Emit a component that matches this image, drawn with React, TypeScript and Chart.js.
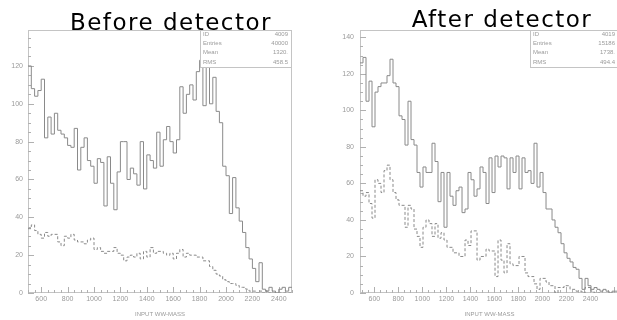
import { useEffect, useRef } from "react";
import { Chart, registerables } from "chart.js";

Chart.register(...registerables);

// Histogram binning (GeV), shared by both panels
const BIN_WIDTH = 25;

// "Before detector": generated WW mass, all events (solid) and selected (dashed)
const beforeFirstEdge = 500;
const beforeSolid = [
  120, 108, 104, 107, 113, 82, 93, 84, 95, 86, 84, 82, 78, 77, 87, 65, 77, 82, 70, 67,
  58, 71, 69, 46, 72, 58, 44, 64, 80, 80, 60, 66, 63, 57, 80, 55, 73, 70, 66, 85,
  67, 81, 88, 80, 74, 81, 109, 95, 105, 110, 102, 117, 123, 99, 126, 100, 114, 96, 90, 67,
  62, 42, 61, 45, 38, 32, 24, 18, 13, 6, 16, 2, 1, 3, 1, 0, 2, 3, 1, 3,
];
const beforeDashed = [
  34, 36, 33, 31, 29, 32, 30, 31, 31, 27, 25, 30, 29, 31, 28, 27, 27, 26, 28, 29,
  23, 24, 22, 21, 22, 22, 24, 21, 20, 17, 19, 20, 19, 21, 18, 22, 19, 24, 21, 22,
  22, 21, 20, 21, 18, 21, 23, 19, 21, 20, 20, 19, 19, 17, 17, 14, 12, 10, 9, 7,
  6, 5, 5, 4, 3, 3, 2, 1, 1, 0, 1, 0, 1, 0, 0, 0, 0, 0, 0, 0,
];

// "After detector": reconstructed WW mass
const afterFirstEdge = 480;
const afterSolid = [
  126, 129, 105, 116, 91, 110, 113, 115, 115, 119, 128, 115, 113, 97, 95, 81, 105, 84, 81, 66,
  58, 69, 66, 66, 82, 72, 50, 66, 36, 66, 53, 48, 56, 58, 44, 46, 66, 62, 53, 57,
  69, 66, 49, 74, 55, 75, 69, 75, 74, 57, 74, 66, 75, 57, 74, 66, 67, 60, 82, 58,
  66, 55, 46, 46, 40, 36, 33, 27, 22, 19, 17, 14, 13, 8, 2, 8, 4, 2, 3, 2,
  1, 2, 1, 0, 1, 1, 0, 0,
];
const afterDashed = [
  56, 53, 55, 49, 41, 62, 60, 55, 67, 70, 62, 55, 51, 48, 48, 36, 48, 46, 35, 31,
  25, 36, 40, 38, 31, 38, 30, 33, 29, 25, 25, 22, 22, 20, 20, 29, 26, 34, 34, 18,
  20, 20, 24, 23, 23, 9, 29, 18, 11, 27, 16, 15, 15, 20, 20, 11, 9, 9, 5, 2,
  8, 8, 6, 4, 4, 0, 3, 3, 4, 4, 2, 2, 1, 1, 0, 3, 3, 1, 0, 0,
];

// Axis ranges and tick labels
const beforeMassRange = [500, 2500];
const afterMassRange = [480, 2638];
const beforeCountMax = 139;
const afterCountMax = 144;
const massTicks = [600, 800, 1000, 1200, 1400, 1600, 1800, 2000, 2200, 2400];
const beforeCountTicks = [0, 20, 40, 60, 80, 100, 120];
const afterCountTicks = [0, 20, 40, 60, 80, 100, 120, 140];

// Statistics boxes
const beforeStats = [
  ["ID", "4009"],
  ["Entries", "40000"],
  ["Mean", "1320."],
  ["RMS", "458.5"],
];
const afterStats = [
  ["ID", "4019"],
  ["Entries", "15186"],
  ["Mean", "1738."],
  ["RMS", "494.4"],
];

const axisTitle = "INPUT WW-MASS";
const beforeTitle = "Before detector";
const afterTitle = "After detector";

const FRAME = "#c4c4c4";
const INK = "#8a8a8a";
const LABEL = "#9a9a9a";
const SMALL_FONT = "'Liberation Sans', Arial, sans-serif";

// Bin contents -> step outline points at bin edges
function toSteps(firstEdge: number, values: number[]) {
  const pts = values.map((v, i) => ({ x: firstEdge + i * BIN_WIDTH, y: v }));
  pts.push({ x: firstEdge + values.length * BIN_WIDTH, y: values[values.length - 1] });
  return pts;
}

// Draws a PAW-style frame with inward ticks, and the statistics box on top of the data
const pawFrame = {
  id: "pawFrame",
  beforeDatasetsDraw(chart: any) {
    const { ctx, chartArea: a, scales } = chart;
    const xs = scales.x;
    const ys = scales.y;
    ctx.save();
    ctx.strokeStyle = FRAME;
    ctx.lineWidth = 1;
    ctx.strokeRect(a.left + 0.5, a.top + 0.5, a.right - a.left - 1, a.bottom - a.top - 1);
    ctx.strokeStyle = "#b0b0b0";
    ctx.beginPath();
    for (let v = Math.ceil(xs.min / 50) * 50; v <= xs.max; v += 50) {
      const px = Math.round(xs.getPixelForValue(v)) + 0.5;
      const len = v % 200 === 0 ? 6 : 3;
      ctx.moveTo(px, a.bottom);
      ctx.lineTo(px, a.bottom - len);
    }
    for (let v = 0; v <= ys.max; v += 5) {
      const py = Math.round(ys.getPixelForValue(v)) + 0.5;
      const len = v % 20 === 0 ? 6 : 3;
      ctx.moveTo(a.left, py);
      ctx.lineTo(a.left + len, py);
    }
    ctx.stroke();
    ctx.restore();
  },
  afterDatasetsDraw(chart: any, _args: any, opts: any) {
    const { ctx, chartArea: a } = chart;
    const w = opts.width;
    const h = 38;
    const left = a.right - w;
    ctx.save();
    ctx.fillStyle = "#ffffff";
    ctx.fillRect(left, a.top, w, h);
    ctx.strokeStyle = FRAME;
    ctx.lineWidth = 1;
    ctx.strokeRect(left + 0.5, a.top + 0.5, w - 1, h - 1);
    ctx.fillStyle = LABEL;
    ctx.font = `6px ${SMALL_FONT}`;
    ctx.textBaseline = "middle";
    (opts.rows as string[][]).forEach(([k, v], i) => {
      const y = a.top + 4 + i * 9.3;
      ctx.textAlign = "left";
      ctx.fillText(k, left + 3, y);
      ctx.textAlign = "right";
      ctx.fillText(v, a.right - 4, y);
    });
    ctx.restore();
  },
};

type PanelProps = {
  solid: number[];
  dashed: number[];
  firstEdge: number;
  massRange: number[];
  countMax: number;
  countTicks: number[];
  stats: string[][];
  width: number;
  axisWidth: number;
  rightPad: number;
  labelPad: number;
  statsWidth: number;
  left: number;
};

function Panel(p: PanelProps) {
  const ref = useRef<HTMLCanvasElement>(null);
  useEffect(() => {
    const chart = new Chart(ref.current!, {
      type: "line",
      data: {
        datasets: [
          {
            data: toSteps(p.firstEdge, p.solid),
            stepped: "before",
            borderColor: INK,
            borderWidth: 1,
            pointRadius: 0,
            fill: false,
          },
          {
            data: toSteps(p.firstEdge, p.dashed),
            stepped: "before",
            borderColor: INK,
            borderWidth: 1,
            borderDash: [3, 2],
            pointRadius: 0,
            fill: false,
          },
        ],
      },
      options: {
        animation: false,
        responsive: false,
        devicePixelRatio: 1,
        parsing: false,
        events: [],
        layout: { padding: { top: 30, right: p.rightPad, left: 0, bottom: 0 } },
        plugins: {
          legend: { display: false },
          tooltip: { enabled: false },
          pawFrame: { rows: p.stats, width: p.statsWidth },
        } as any,
        scales: {
          x: {
            type: "linear",
            min: p.massRange[0],
            max: p.massRange[1],
            grid: { display: false, drawTicks: false },
            border: { display: false },
            ticks: {
              autoSkip: false,
              maxRotation: 0,
              padding: 2,
              color: LABEL,
              font: { size: 7, family: SMALL_FONT },
              callback: (v: any) => String(v),
            },
            title: {
              display: true,
              text: axisTitle,
              color: LABEL,
              font: { size: 6, family: SMALL_FONT },
              padding: { top: 0, bottom: 2 },
            },
            afterBuildTicks: (s: any) => {
              s.ticks = massTicks.map((value) => ({ value }));
            },
            afterFit: (s: any) => {
              s.height = 27;
            },
          },
          y: {
            type: "linear",
            min: 0,
            max: p.countMax,
            grid: { display: false, drawTicks: false },
            border: { display: false },
            ticks: {
              autoSkip: false,
              padding: p.labelPad,
              color: LABEL,
              font: { size: 7, family: SMALL_FONT },
              callback: (v: any) => String(v),
            },
            afterBuildTicks: (s: any) => {
              s.ticks = p.countTicks.map((value) => ({ value }));
            },
            afterFit: (s: any) => {
              s.width = p.axisWidth;
            },
          },
        },
      },
      plugins: [pawFrame],
    });
    return () => chart.destroy();
  }, []);
  return (
    <canvas
      ref={ref}
      width={p.width}
      height={320}
      style={{ position: "absolute", left: p.left, top: 0, width: p.width, height: 320 }}
    />
  );
}

const titleStyle = (center: number, top: number): React.CSSProperties => ({
  position: "absolute",
  left: center - 150,
  top,
  width: 300,
  textAlign: "center",
  fontFamily: "'DejaVu Sans', sans-serif",
  fontSize: 23,
  lineHeight: "24px",
  letterSpacing: "1.5px",
  color: "#000",
  whiteSpace: "nowrap",
});

export default function App() {
  return (
    <div
      style={{
        position: "fixed",
        left: 0,
        top: 0,
        width: 617,
        height: 320,
        overflow: "hidden",
        background: "#fff",
      }}
    >
      <Panel
        solid={beforeSolid}
        dashed={beforeDashed}
        firstEdge={beforeFirstEdge}
        massRange={beforeMassRange}
        countMax={beforeCountMax}
        countTicks={beforeCountTicks}
        stats={beforeStats}
        width={305}
        axisWidth={28}
        rightPad={13}
        labelPad={5}
        statsWidth={92}
        left={0}
      />
      <Panel
        solid={afterSolid}
        dashed={afterDashed}
        firstEdge={afterFirstEdge}
        massRange={afterMassRange}
        countMax={afterCountMax}
        countTicks={afterCountTicks}
        stats={afterStats}
        width={320}
        axisWidth={53}
        rightPad={8}
        labelPad={6}
        statsWidth={89}
        left={307}
      />
      <div style={titleStyle(171, 10)}>{beforeTitle}</div>
      <div style={titleStyle(502, 7)}>{afterTitle}</div>
    </div>
  );
}
